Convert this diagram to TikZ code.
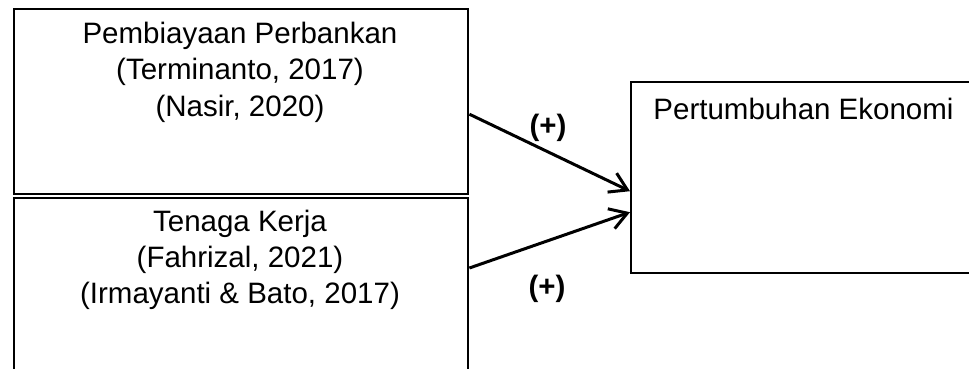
\documentclass[tikz,border=0pt]{standalone}
\usepackage{fontspec}
\setmainfont{Liberation Sans}
\usetikzlibrary{arrows.meta}
\begin{document}
\begin{tikzpicture}[x=1pt,y=-1pt,
  box/.style={draw=black, line width=2.4pt, rectangle, inner sep=0pt, anchor=north west},
  txt/.style={anchor=base, inner sep=0pt, font=\fontsize{29.5}{34}\selectfont},
  sign/.style={inner sep=0pt, font=\fontsize{29.5}{34}\selectfont\bfseries},
  arr/.style={line width=3pt, -{Straight Barb[length=17pt,width=21pt,line width=3pt]}}
]
\useasboundingbox (0,0) rectangle (969,369);
\clip (0,0) rectangle (969,369);
\fill[white] (0,0) rectangle (969,369);
% boxes
\node[box, minimum width=454.5pt, minimum height=185pt] (b1) at (12.5,8) {};
\node[box, minimum width=454.5pt, minimum height=230pt] (b2) at (12.5,197) {};
\node[box, minimum width=347pt, minimum height=191pt] (b3) at (630,81) {};
% texts
\node[txt] (t1a) at (240,44) {Pembiayaan Perbankan};
\node[txt] (t1b) at (240,80) {(Terminanto, 2017)};
\node[txt] (t1c) at (240,116) {(Nasir, 2020)};
\node[txt] (t2a) at (240,231) {Tenaga Kerja};
\node[txt] (t2b) at (240,267) {(Fahrizal, 2021)};
\node[txt] (t2c) at (240,303) {(Irmayanti \& Bato, 2017)};
\node[txt] (t3) at (803.5,119) {Pertumbuhan Ekonomi};
% signs
\node[sign] (p1) at (548,128) {(+)};
\node[sign] (p2) at (547,289) {(+)};
% arrows
\draw[arr] ([yshift=-12.5pt]b1.east) -- ([yshift=-13.5pt]b3.west);
\draw[arr] ([yshift=-71pt]b2.north east) -- ([yshift=-34.5pt]b3.west);
\end{tikzpicture}
\end{document}
